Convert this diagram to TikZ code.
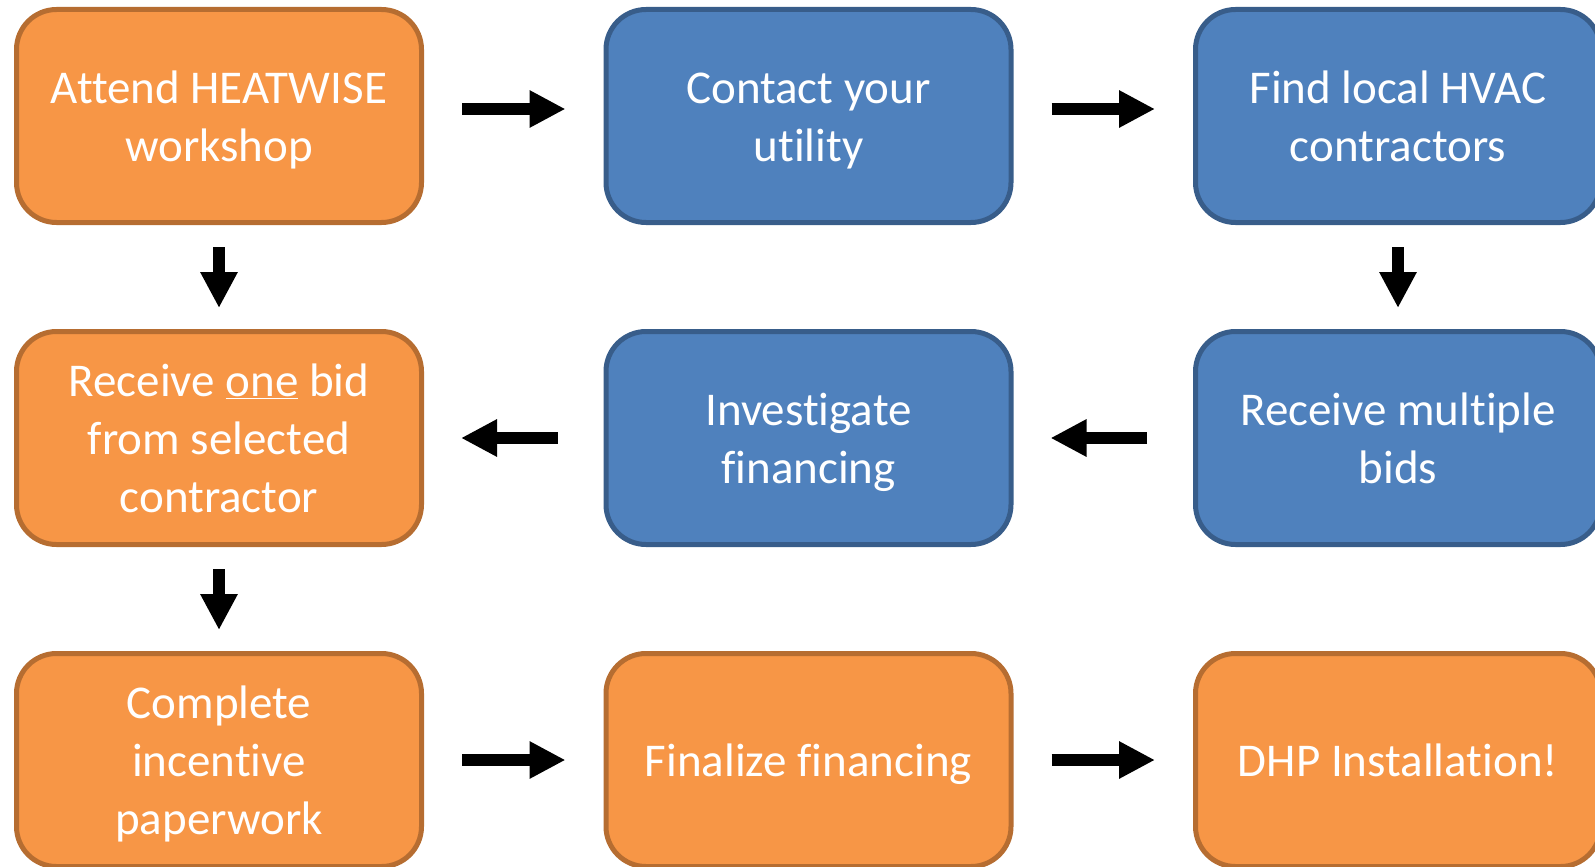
\documentclass[tikz,border=0pt]{standalone}
\usepackage{fontspec}
\setmainfont{Carlito}[Ligatures=CommonOff]
\usepackage{tikz}
\usetikzlibrary{arrows.meta}
\usetikzlibrary{positioning}

\definecolor{warmfill}{HTML}{F79646}
\definecolor{warmline}{HTML}{B66D31}
\definecolor{coolfill}{HTML}{4F81BD}
\definecolor{coolline}{HTML}{385D8A}

\tikzset{
  box/.style={rectangle, rounded corners=40pt, minimum width=405pt, minimum height=213pt,
    line width=5pt, text=white, align=center, font=\fontsize{47}{58}\selectfont,
    execute at begin node={\rule{0pt}{46pt}},
    execute at end node={\rule[-14pt]{0pt}{14pt}}},
  lines/.style={execute at begin node={\rule{0pt}{#1}}},
  warm/.style={box, fill=warmfill, draw=warmline},
  cool/.style={box, fill=coolfill, draw=coolline}
}

\begin{document}
\begin{tikzpicture}[>={Triangle[length=36pt,width=35pt]}, node distance=589.5pt]
\useasboundingbox (0,0) rectangle (1595pt,-867pt);
\node (att) [warm, lines=104pt] at (219pt,-116pt) {Attend HEATWISE\\workshop};
\node (con) [cool, lines=104pt, right of=att] {Contact your\\utility};
\node (hvac) [cool, lines=104pt, right of=con] {Find local HVAC\\contractors};
\node (one) [warm, lines=162pt, node distance=322pt, below of=att] {Receive \underline{one} bid\\from selected\\contractor};
\node (inv) [cool, lines=104pt, right of=one] {Investigate\\financing};
\node (multi) [cool, lines=104pt, right of=inv] {Receive multiple\\bids};
\node (paper) [warm, lines=162pt, node distance=322pt, below of=one] {Complete\\incentive\\paperwork};
\node (final) [warm, right of=paper] {Finalize financing};
\node (dhp) [warm, right of=final] {DHP Installation!};
\begin{scope}[line width=12.5pt]
\draw[->, shorten <=38pt, shorten >=38pt] ([yshift=7pt]att.east) to ([yshift=7pt]con.west);
\draw[->, shorten <=38pt, shorten >=38pt] ([yshift=7pt]con.east) to ([yshift=7pt]hvac.west);
\draw[->, shorten <=22pt, shorten >=21pt] (att) to (one);
\draw[->, shorten <=22pt, shorten >=21pt] (hvac) to (multi);
\draw[->, shorten <=46pt, shorten >=37pt] (multi) to (inv);
\draw[->, shorten <=46pt, shorten >=37pt] (inv) to (one);
\draw[->, shorten <=22pt, shorten >=21pt] (one) to (paper);
\draw[->, shorten <=38pt, shorten >=38pt] (paper) to (final);
\draw[->, shorten <=38pt, shorten >=38pt] (final) to (dhp);
\end{scope}
\end{tikzpicture}
\end{document}
